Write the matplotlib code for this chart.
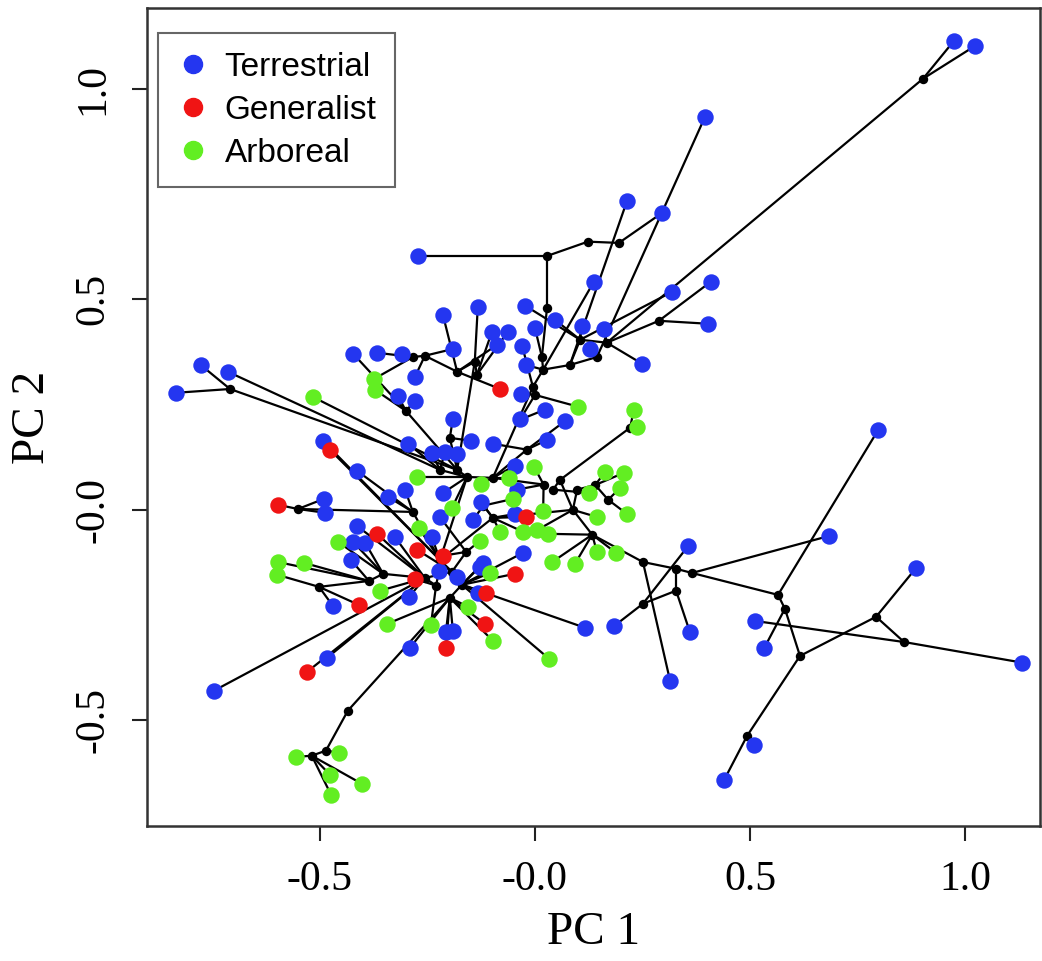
"""Phylomorphospace of locomotor habit (PC 1 vs PC 2)."""
import matplotlib
matplotlib.use("Agg")
import matplotlib.pyplot as plt
from matplotlib.lines import Line2D

# internal (ancestral) nodes: x, y, index of parent node (-1 = root)
node_x = [-0.193, -0.221, -0.170, -0.198, -0.256, -0.158, -0.181, -0.098, -0.098, -0.284,
          -0.005, 0.019, 0.016, 0.028, 0.028, 0.123, 0.195, 0.081, 0.105, 0.167,
          0.144, 0.288, 0.902, -0.140, -0.181, -0.135, -0.256, -0.284, -0.300, -0.198,
          -0.019, 0.000, 0.088, 0.058, 0.042, 0.098, 0.140, 0.170, 0.133, 0.221,
          0.251, 0.328, 0.365, 0.565, 0.581, 0.616, 0.793, 0.858, 0.493, 0.328,
          0.251, -0.551, -0.353, -0.386, -0.502, -0.435, -0.486, -0.519, -0.709, -0.221,
          -0.035, -0.160, -0.120, -0.230, 0.020]
node_y = [-0.147, -0.119, -0.178, -0.209, -0.162, 0.078, 0.095, 0.076, -0.019, -0.005,
          0.292, 0.333, 0.363, 0.480, 0.603, 0.637, 0.634, 0.344, 0.404, 0.397,
          0.363, 0.449, 1.024, 0.352, 0.328, 0.321, 0.366, 0.363, 0.235, 0.171,
          0.143, 0.273, 0.000, 0.071, 0.048, 0.048, 0.059, 0.024, -0.059, 0.195,
          -0.124, -0.140, -0.150, -0.202, -0.235, -0.347, -0.254, -0.314, -0.537, -0.192,
          -0.223, 0.002, -0.152, -0.169, -0.183, -0.477, -0.572, -0.584, 0.287, 0.095,
          0.214, -0.100, 0.010, -0.180, 0.060]
node_parent = [-1, 0, 0, 2, 0, 1, 5, 5, 1, 1,
               7, 10, 11, 12, 13, 14, 15, 11, 17, 18,
               17, 19, 19, 6, 23, 23, 24, 26, 6, 6,
               7, 10, 8, 32, 33, 32, 35, 36, 32, 33,
               38, 40, 41, 42, 43, 44, 45, 46, 45, 41,
               49, 9, 4, 52, 53, 3, 55, 56, 6, 5,
               31, 0, 8, 4, 7]

# tips by habit: x, y, parent node
terr_x = [0.974, 1.023, 0.395, 0.214, 0.295, -0.272, 0.137, 0.409, 0.319, 0.402,
          0.249, -0.214, -0.133, -0.023, -0.100, -0.063, 0.000, 0.047, 0.109, 0.160,
          -0.088, -0.030, 0.128, -0.191, -0.309, -0.367, -0.423, -0.777, -0.714, -0.835,
          -0.279, -0.021, -0.319, -0.279, -0.191, -0.033, -0.035, 0.023, 0.070, 0.028,
          -0.149, -0.098, -0.209, -0.181, -0.240, -0.295, -0.493, -0.414, -0.047, -0.302,
          -0.342, -0.214, -0.042, -0.126, -0.221, -0.144, -0.047, -0.491, -0.488, -0.414,
          -0.326, -0.423, -0.395, -0.240, -0.428, -0.223, -0.181, -0.128, -0.028, -0.293,
          -0.470, -0.207, -0.191, -0.291, -0.484, -0.747, 0.116, 0.184, 0.314, 0.360,
          0.356, 0.684, 0.798, 0.886, 0.512, 0.533, 1.133, 0.509, 0.440, -0.121,
          -0.133]
terr_y = [1.114, 1.102, 0.933, 0.734, 0.705, 0.603, 0.542, 0.542, 0.518, 0.442,
          0.347, 0.463, 0.482, 0.485, 0.423, 0.423, 0.432, 0.451, 0.437, 0.430,
          0.392, 0.390, 0.382, 0.382, 0.371, 0.373, 0.371, 0.344, 0.328, 0.278,
          0.316, 0.344, 0.271, 0.259, 0.216, 0.276, 0.216, 0.238, 0.211, 0.166,
          0.164, 0.157, 0.138, 0.133, 0.135, 0.157, 0.164, 0.093, 0.105, 0.048,
          0.031, 0.040, 0.048, 0.019, -0.017, -0.024, -0.010, 0.026, -0.007, -0.038,
          -0.064, -0.076, -0.078, -0.064, -0.119, -0.145, -0.159, -0.135, -0.102, -0.207,
          -0.228, -0.290, -0.287, -0.328, -0.352, -0.430, -0.280, -0.276, -0.406, -0.290,
          -0.086, -0.062, 0.190, -0.138, -0.264, -0.328, -0.363, -0.558, -0.641, -0.126,
          -0.197]
terr_parent = [22, 22, 20, 17, 16, 14, 11, 21, 18, 21,
               19, 24, 23, 18, 25, 25, 12, 18, 18, 19,
               24, 31, 20, 26, 27, 27, 28, 58, 59, 58,
               26, 11, 28, 28, 29, 31, 60, 60, 30, 30,
               29, 30, 59, 6, 59, 59, 1, 9, 7, 9,
               9, 5, 64, 8, 61, 62, 8, 51, 51, 4,
               4, 52, 52, 1, 53, 63, 0, 2, 2, 4,
               54, 3, 3, 3, 4, 4, 2, 50, 40, 49,
               50, 42, 43, 46, 47, 44, 47, 48, 48, 2,
               2]

gen_x = [-0.081, -0.477, -0.598, -0.367, -0.274, -0.214, -0.279, -0.021, -0.047, -0.409,
         -0.116, -0.114, -0.207, -0.530]
gen_y = [0.287, 0.143, 0.012, -0.057, -0.095, -0.109, -0.164, -0.017, -0.152, -0.226,
         -0.271, -0.197, -0.328, -0.385]
gen_parent = [24, 1, 51, 4, 0, 61, 63, 8, 2, 54,
              3, 2, 3, 4]

arb_x = [-0.516, -0.374, -0.372, 0.100, 0.230, 0.237, -0.274, -0.002, -0.126, -0.060,
         -0.051, 0.163, 0.207, 0.198, 0.126, 0.214, 0.144, 0.019, -0.193, -0.270,
         -0.081, -0.028, 0.005, 0.030, -0.128, 0.144, 0.188, 0.040, 0.093, -0.458,
         -0.598, -0.600, -0.537, -0.360, -0.105, -0.156, -0.344, -0.242, -0.098, 0.033,
         -0.556, -0.456, -0.477, -0.402, -0.474]
arb_y = [0.268, 0.311, 0.285, 0.245, 0.238, 0.197, 0.078, 0.102, 0.062, 0.076,
         0.026, 0.090, 0.088, 0.052, 0.040, -0.010, -0.017, -0.002, 0.005, -0.043,
         -0.052, -0.052, -0.048, -0.057, -0.074, -0.100, -0.102, -0.124, -0.128, -0.076,
         -0.124, -0.154, -0.126, -0.192, -0.150, -0.230, -0.271, -0.273, -0.311, -0.354,
         -0.587, -0.577, -0.629, -0.651, -0.677]
arb_parent = [6, 27, 28, 31, 39, 39, 5, 64, 7, 7,
              62, 36, 36, 37, 34, 37, 32, 64, 5, 1,
              8, 8, 32, 38, 61, 38, 38, 38, 38, 52,
              53, 54, 53, 4, 2, 3, 3, 63, 3, 2,
              57, 56, 57, 57, 57]

habits = ["Terrestrial", "Generalist", "Arboreal"]
colors = ["#2436f0", "#f01414", "#62ee22"]

fig = plt.figure(figsize=(10.42, 9.61), dpi=100)
ax = fig.add_axes([147 / 1042, 135 / 961, 893 / 1042, 818 / 961])

# branches between ancestral nodes
for i, p in enumerate(node_parent):
    if p >= 0:
        ax.plot([node_x[p], node_x[i]], [node_y[p], node_y[i]], color="black", lw=1.6, zorder=1)

groups = [(terr_x, terr_y, terr_parent), (gen_x, gen_y, gen_parent), (arb_x, arb_y, arb_parent)]
for xs, ys, ps in groups:
    for x, y, p in zip(xs, ys, ps):
        ax.plot([node_x[p], x], [node_y[p], y], color="black", lw=1.6, zorder=1)

ax.scatter(node_x, node_y, s=46, color="black", zorder=2, linewidths=0)
for (xs, ys, _), c in zip(groups, colors):
    ax.scatter(xs, ys, s=140, color=c, zorder=3, linewidths=0)

ax.set_xlim(-0.902, 1.174)
ax.set_ylim(-0.751, 1.192)

ticks = [-0.5, 0.0, 0.5, 1.0]
tick_labels = ["-0.5", "-0.0", "0.5", "1.0"]
serif = "Liberation Serif"
ax.set_xticks(ticks)
ax.set_xticklabels(tick_labels, fontsize=30, family=serif)
ax.set_yticks(ticks)
ax.set_yticklabels(tick_labels, fontsize=30, family=serif, rotation=90, va="center")
ax.tick_params(direction="out", length=11, width=1.5, pad=14, color="#222222")
ax.set_xlabel("PC 1", fontsize=34, family=serif, labelpad=9)
ax.set_ylabel("PC 2", fontsize=34, family=serif, labelpad=14)
for sp in ax.spines.values():
    sp.set_linewidth(1.8)
    sp.set_color("#333333")

handles = [Line2D([], [], marker="o", ls="none", color=c, markersize=13) for c in colors]
leg = ax.legend(handles, habits, loc="upper left", bbox_to_anchor=(0.0123, 0.969), borderaxespad=0,
                prop={"family": "Liberation Sans", "size": 24}, fancybox=False, framealpha=1,
                borderpad=0.55, handlelength=1.0, handletextpad=0.45, labelspacing=0.36)
leg.get_frame().set_edgecolor("#666666")
leg.get_frame().set_linewidth(1.5)

fig.savefig("out.png", dpi=100)
